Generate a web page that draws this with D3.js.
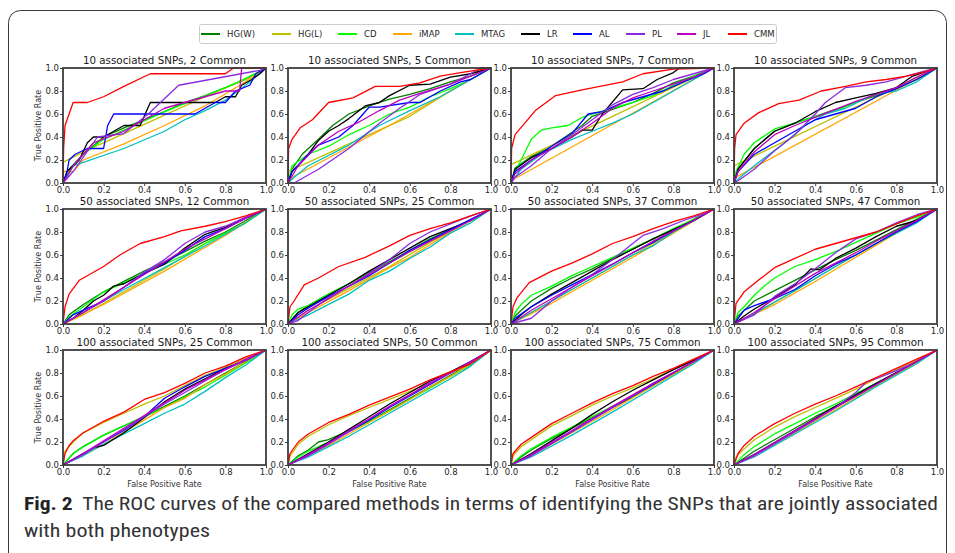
<!DOCTYPE html>
<html><head><meta charset="utf-8">
<script src="https://cdn.jsdelivr.net/npm/d3@7"></script>
<style>body{margin:0;background:#fff}svg{display:block}</style>
</head><body>
<svg id="chart" width="955" height="553"></svg>
<script>
const methods = ["HG(W)","HG(L)","CD","iMAP","MTAG","LR","AL","PL","JL","CMM"];
const colors = ["#008000","#bfbf00","#00ff00","#ffa500","#00bfbf","#000000","#0000ff","#8a2be2","#bf00bf","#ff0000"];
const panelTitles = [
 "10 associated SNPs, 2 Common","10 associated SNPs, 5 Common","10 associated SNPs, 7 Common","10 associated SNPs, 9 Common",
 "50 associated SNPs, 12 Common","50 associated SNPs, 25 Common","50 associated SNPs, 37 Common","50 associated SNPs, 47 Common",
 "100 associated SNPs, 25 Common","100 associated SNPs, 50 Common","100 associated SNPs, 75 Common","100 associated SNPs, 95 Common"];
const tickValues = [0,0.2,0.4,0.6,0.8,1.0];
const xLabel = "False Positive Rate", yLabel = "True Positive Rate";

// ROC curves: [FPR, TPR] points, series in the order of `methods`
const roc_10_2 = [
 [[0,0],[0.03,0.12],[0.1,0.25],[0.2,0.4],[0.3,0.48],[0.4,0.55],[0.5,0.62],[0.6,0.7],[0.7,0.76],[0.8,0.83],[0.9,0.9],[1,1]],
 [[0,0],[0,0.18],[0.1,0.27],[0.3,0.43],[0.5,0.59],[0.7,0.75],[0.9,0.9],[1,1]],
 [[0,0],[0.03,0.1],[0.1,0.25],[0.2,0.38],[0.3,0.46],[0.4,0.54],[0.5,0.62],[0.6,0.69],[0.7,0.76],[0.8,0.83],[0.9,0.91],[1,1]],
 [[0,0],[0,0.1],[0.05,0.1],[0.1,0.2],[0.3,0.34],[0.5,0.5],[0.7,0.67],[0.9,0.88],[1,1]],
 [[0,0],[0.02,0.05],[0.05,0.15],[0.1,0.18],[0.3,0.3],[0.5,0.45],[0.6,0.55],[0.7,0.63],[0.8,0.72],[0.9,0.85],[1,1]],
 [[0,0],[0.02,0.1],[0.05,0.15],[0.08,0.2],[0.12,0.35],[0.15,0.4],[0.2,0.4],[0.25,0.45],[0.3,0.5],[0.38,0.5],[0.43,0.7],[0.75,0.7],[0.8,0.75],[0.85,0.75],[0.88,0.85],[0.93,0.9],[0.97,0.95],[1,1]],
 [[0,0],[0.02,0.1],[0.03,0.2],[0.06,0.25],[0.12,0.3],[0.2,0.3],[0.22,0.5],[0.25,0.6],[0.65,0.6],[0.75,0.7],[0.8,0.7],[0.85,0.8],[0.92,0.85],[0.95,0.95],[1,1]],
 [[0,0],[0.05,0.1],[0.17,0.4],[0.3,0.43],[0.42,0.6],[0.57,0.85],[0.97,0.98],[1,1]],
 [[0,0],[0.05,0.15],[0.15,0.35],[0.3,0.45],[0.5,0.65],[0.7,0.75],[0.8,0.8],[0.87,0.8],[0.88,1],[1,1]],
 [[0,0],[0.003,0.3],[0.01,0.5],[0.05,0.7],[0.12,0.7],[0.2,0.75],[0.3,0.84],[0.43,0.95],[0.8,0.95],[0.84,1],[1,1]]
];
const roc_10_5 = [
 [[0,0],[0.02,0.12],[0.07,0.25],[0.15,0.38],[0.22,0.5],[0.3,0.6],[0.4,0.67],[0.5,0.73],[0.6,0.77],[0.7,0.82],[0.8,0.88],[0.9,0.93],[1,1]],
 [[0,0],[0,0.1],[0.2,0.26],[0.4,0.42],[0.6,0.58],[0.8,0.8],[1,1]],
 [[0,0],[0.02,0.15],[0.1,0.25],[0.2,0.32],[0.3,0.42],[0.4,0.5],[0.5,0.6],[0.6,0.66],[0.7,0.75],[0.8,0.82],[0.9,0.9],[1,1]],
 [[0,0],[0,0.03],[0.5,0.5],[1,1]],
 [[0,0],[0.03,0.05],[0.1,0.15],[0.3,0.33],[0.45,0.5],[0.6,0.63],[0.75,0.75],[0.9,0.9],[1,1]],
 [[0,0],[0.02,0.1],[0.05,0.15],[0.1,0.25],[0.15,0.37],[0.2,0.45],[0.25,0.5],[0.3,0.56],[0.38,0.67],[0.45,0.7],[0.5,0.76],[0.6,0.85],[0.7,0.86],[0.8,0.92],[0.9,0.95],[1,1]],
 [[0,0],[0.02,0.1],[0.1,0.25],[0.15,0.33],[0.25,0.4],[0.32,0.5],[0.37,0.6],[0.4,0.66],[0.45,0.66],[0.6,0.7],[0.65,0.7],[0.75,0.8],[0.85,0.88],[0.9,0.9],[1,1]],
 [[0,0],[0.03,0],[0.15,0.12],[0.3,0.3],[0.45,0.52],[0.55,0.65],[0.65,0.77],[0.8,0.86],[0.9,0.95],[0.95,1],[1,1]],
 [[0,0],[0.05,0.15],[0.15,0.33],[0.25,0.45],[0.35,0.53],[0.45,0.63],[0.55,0.72],[0.65,0.78],[0.8,0.86],[0.9,0.93],[1,1]],
 [[0,0],[0.003,0.3],[0.02,0.38],[0.06,0.48],[0.12,0.55],[0.2,0.7],[0.32,0.74],[0.43,0.84],[0.55,0.84],[0.65,0.87],[0.75,0.93],[0.85,0.96],[1,1]]
];
const roc_10_7 = [
 [[0,0],[0.02,0.13],[0.1,0.23],[0.18,0.3],[0.25,0.38],[0.35,0.5],[0.4,0.58],[0.5,0.64],[0.6,0.7],[0.7,0.78],[0.8,0.87],[0.9,0.93],[1,1]],
 [[0,0],[0,0.16],[0.5,0.58],[1,1]],
 [[0,0],[0.02,0.1],[0.05,0.2],[0.1,0.38],[0.15,0.46],[0.2,0.48],[0.28,0.5],[0.35,0.57],[0.4,0.6],[0.5,0.65],[0.6,0.7],[0.7,0.76],[0.8,0.85],[0.9,0.93],[1,1]],
 [[0,0],[0,0.02],[1,1]],
 [[0,0],[0.05,0.12],[0.15,0.25],[0.3,0.38],[0.4,0.45],[0.5,0.52],[0.6,0.6],[0.7,0.7],[0.8,0.8],[0.9,0.9],[1,1]],
 [[0,0],[0.02,0.12],[0.1,0.22],[0.2,0.3],[0.3,0.4],[0.35,0.46],[0.4,0.46],[0.45,0.6],[0.55,0.81],[0.65,0.82],[0.72,0.9],[0.8,0.96],[0.83,1],[1,1]],
 [[0,0],[0.02,0.1],[0.1,0.2],[0.2,0.32],[0.3,0.43],[0.38,0.6],[0.45,0.62],[0.55,0.7],[0.65,0.75],[0.75,0.8],[0.85,0.88],[0.95,0.95],[1,1]],
 [[0,0],[0.02,0.05],[0.1,0.15],[0.2,0.3],[0.3,0.42],[0.4,0.55],[0.5,0.68],[0.6,0.77],[0.7,0.83],[0.8,0.9],[0.9,0.95],[1,1]],
 [[0,0],[0.02,0.08],[0.1,0.2],[0.2,0.3],[0.3,0.4],[0.4,0.52],[0.5,0.65],[0.6,0.74],[0.7,0.8],[0.8,0.86],[0.9,0.92],[1,1]],
 [[0,0],[0.003,0.3],[0.02,0.42],[0.12,0.63],[0.22,0.76],[0.35,0.81],[0.55,0.88],[0.65,0.95],[0.8,0.99],[1,1]]
];
const roc_10_9 = [
 [[0,0],[0.02,0.12],[0.1,0.3],[0.2,0.45],[0.3,0.52],[0.4,0.58],[0.5,0.64],[0.6,0.7],[0.7,0.76],[0.8,0.82],[0.9,0.9],[1,1]],
 [[0,0],[0,0.15],[1,1]],
 [[0,0],[0.01,0.1],[0.05,0.25],[0.1,0.35],[0.2,0.47],[0.3,0.52],[0.4,0.58],[0.5,0.63],[0.6,0.7],[0.7,0.77],[0.8,0.82],[0.9,0.9],[1,1]],
 [[0,0],[0,0.04],[1,1]],
 [[0,0],[0.03,0.05],[0.1,0.15],[0.25,0.35],[0.35,0.5],[0.45,0.6],[0.55,0.65],[0.7,0.78],[0.8,0.8],[0.9,0.88],[1,1]],
 [[0,0],[0.02,0.12],[0.1,0.3],[0.2,0.45],[0.3,0.52],[0.4,0.62],[0.5,0.7],[0.6,0.74],[0.7,0.78],[0.8,0.83],[0.88,0.93],[1,1]],
 [[0,0],[0.02,0.1],[0.1,0.25],[0.2,0.35],[0.3,0.45],[0.4,0.55],[0.5,0.6],[0.6,0.65],[0.7,0.75],[0.8,0.82],[0.9,0.9],[0.95,0.95],[1,1]],
 [[0,0],[0.02,0.02],[0.1,0.12],[0.2,0.28],[0.3,0.42],[0.4,0.6],[0.45,0.7],[0.55,0.83],[0.65,0.85],[0.75,0.88],[0.85,0.93],[0.95,0.98],[1,1]],
 [[0,0],[0.02,0.1],[0.1,0.27],[0.2,0.42],[0.3,0.5],[0.4,0.57],[0.5,0.64],[0.6,0.71],[0.7,0.77],[0.8,0.83],[0.9,0.92],[1,1]],
 [[0,0],[0.003,0.3],[0.01,0.42],[0.05,0.52],[0.12,0.61],[0.22,0.69],[0.32,0.72],[0.43,0.8],[0.55,0.84],[0.65,0.88],[0.75,0.9],[0.85,0.93],[0.95,0.97],[1,1]]
];
const roc_50_12 = [
 [[0,0],[0.03,0.08],[0.1,0.17],[0.2,0.28],[0.3,0.37],[0.4,0.46],[0.5,0.54],[0.6,0.63],[0.7,0.72],[0.8,0.8],[0.9,0.9],[1,1]],
 [[0,0],[0.1,0.08],[0.3,0.28],[0.5,0.48],[0.7,0.7],[0.9,0.88],[1,1]],
 [[0,0],[0.03,0.06],[0.1,0.15],[0.2,0.28],[0.3,0.36],[0.4,0.44],[0.5,0.52],[0.6,0.6],[0.7,0.7],[0.8,0.79],[0.9,0.88],[1,1]],
 [[0,0],[0.2,0.17],[0.5,0.46],[0.8,0.77],[1,1]],
 [[0,0],[0.1,0.1],[0.3,0.3],[0.5,0.49],[0.7,0.68],[0.9,0.88],[1,1]],
 [[0,0],[0.05,0.05],[0.1,0.12],[0.15,0.2],[0.2,0.25],[0.25,0.33],[0.3,0.35],[0.4,0.44],[0.5,0.52],[0.6,0.66],[0.7,0.78],[0.8,0.84],[0.9,0.92],[1,1]],
 [[0,0],[0.05,0.08],[0.1,0.12],[0.2,0.2],[0.3,0.32],[0.4,0.44],[0.5,0.53],[0.6,0.64],[0.7,0.76],[0.8,0.83],[0.9,0.92],[1,1]],
 [[0,0],[0.1,0.1],[0.2,0.2],[0.3,0.32],[0.4,0.45],[0.5,0.56],[0.6,0.7],[0.7,0.8],[0.8,0.85],[0.9,0.93],[1,1]],
 [[0,0],[0.1,0.1],[0.2,0.21],[0.3,0.32],[0.4,0.43],[0.5,0.54],[0.6,0.65],[0.7,0.74],[0.8,0.83],[0.9,0.92],[1,1]],
 [[0,0],[0.01,0.15],[0.03,0.26],[0.08,0.38],[0.15,0.45],[0.2,0.5],[0.28,0.6],[0.38,0.7],[0.5,0.76],[0.58,0.81],[0.7,0.85],[0.8,0.89],[0.9,0.94],[1,1]]
];
const roc_50_25 = [
 [[0,0],[0.05,0.1],[0.1,0.16],[0.2,0.26],[0.3,0.35],[0.4,0.45],[0.5,0.54],[0.6,0.64],[0.7,0.74],[0.8,0.82],[0.9,0.9],[1,1]],
 [[0,0],[0.1,0.12],[0.3,0.31],[0.5,0.5],[0.7,0.71],[0.9,0.9],[1,1]],
 [[0,0],[0.02,0.08],[0.05,0.13],[0.1,0.16],[0.2,0.26],[0.3,0.35],[0.4,0.44],[0.5,0.53],[0.6,0.63],[0.7,0.73],[0.8,0.82],[0.9,0.9],[1,1]],
 [[0,0],[0.1,0.1],[0.3,0.29],[0.5,0.49],[0.6,0.58],[0.8,0.8],[1,1]],
 [[0,0],[0.1,0.08],[0.2,0.17],[0.3,0.26],[0.4,0.38],[0.5,0.46],[0.6,0.57],[0.7,0.67],[0.8,0.79],[0.9,0.88],[1,1]],
 [[0,0],[0.05,0.1],[0.1,0.15],[0.2,0.25],[0.3,0.35],[0.4,0.46],[0.5,0.56],[0.6,0.66],[0.7,0.76],[0.8,0.83],[0.9,0.9],[1,1]],
 [[0,0],[0.05,0.08],[0.1,0.14],[0.2,0.24],[0.3,0.33],[0.4,0.42],[0.5,0.53],[0.6,0.64],[0.7,0.73],[0.8,0.82],[0.9,0.91],[1,1]],
 [[0,0],[0.05,0.03],[0.1,0.1],[0.2,0.23],[0.3,0.33],[0.4,0.44],[0.5,0.56],[0.6,0.7],[0.7,0.8],[0.8,0.87],[0.9,0.94],[1,1]],
 [[0,0],[0.1,0.12],[0.2,0.22],[0.3,0.33],[0.4,0.43],[0.5,0.53],[0.6,0.63],[0.7,0.72],[0.8,0.81],[0.9,0.9],[1,1]],
 [[0,0],[0.01,0.15],[0.03,0.2],[0.08,0.34],[0.15,0.4],[0.25,0.5],[0.38,0.58],[0.5,0.68],[0.6,0.77],[0.7,0.83],[0.8,0.88],[0.9,0.94],[1,1]]
];
const roc_50_37 = [
 [[0,0],[0.02,0.07],[0.1,0.2],[0.2,0.31],[0.3,0.4],[0.4,0.48],[0.5,0.57],[0.6,0.65],[0.7,0.74],[0.8,0.82],[0.9,0.91],[1,1]],
 [[0,0],[0.1,0.1],[0.3,0.3],[0.5,0.5],[0.7,0.7],[0.9,0.9],[1,1]],
 [[0,0],[0.02,0.1],[0.05,0.17],[0.1,0.25],[0.2,0.33],[0.3,0.42],[0.4,0.5],[0.5,0.58],[0.6,0.66],[0.7,0.74],[0.8,0.83],[0.9,0.91],[1,1]],
 [[0,0],[0.2,0.18],[0.4,0.38],[0.6,0.58],[0.8,0.79],[1,1]],
 [[0,0],[0.1,0.1],[0.2,0.2],[0.4,0.4],[0.6,0.6],[0.7,0.68],[0.8,0.8],[0.9,0.9],[1,1]],
 [[0,0],[0.05,0.08],[0.1,0.15],[0.2,0.26],[0.3,0.36],[0.4,0.46],[0.5,0.56],[0.6,0.65],[0.7,0.74],[0.8,0.82],[0.9,0.9],[1,1]],
 [[0,0],[0.02,0.05],[0.1,0.15],[0.2,0.25],[0.3,0.34],[0.4,0.43],[0.5,0.52],[0.6,0.62],[0.7,0.71],[0.8,0.81],[0.9,0.9],[1,1]],
 [[0,0],[0.1,0.05],[0.2,0.2],[0.3,0.32],[0.4,0.43],[0.5,0.56],[0.6,0.7],[0.65,0.77],[0.75,0.83],[0.85,0.9],[0.95,0.96],[1,1]],
 [[0,0],[0.1,0.12],[0.2,0.22],[0.3,0.32],[0.4,0.42],[0.5,0.52],[0.6,0.62],[0.7,0.72],[0.8,0.81],[0.9,0.9],[1,1]],
 [[0,0],[0.01,0.15],[0.03,0.23],[0.09,0.36],[0.2,0.46],[0.3,0.53],[0.4,0.61],[0.5,0.7],[0.6,0.76],[0.7,0.83],[0.8,0.89],[0.9,0.94],[1,1]]
];
const roc_50_47 = [
 [[0,0],[0.02,0.07],[0.1,0.2],[0.2,0.29],[0.3,0.38],[0.4,0.47],[0.5,0.56],[0.6,0.64],[0.7,0.73],[0.8,0.82],[0.9,0.91],[1,1]],
 [[0,0],[0.1,0.09],[0.3,0.29],[0.5,0.5],[0.7,0.7],[0.9,0.9],[1,1]],
 [[0,0],[0.02,0.1],[0.05,0.15],[0.1,0.25],[0.15,0.33],[0.2,0.4],[0.3,0.5],[0.4,0.56],[0.5,0.63],[0.6,0.71],[0.7,0.79],[0.8,0.87],[0.9,0.93],[1,1]],
 [[0,0],[0.2,0.17],[0.4,0.37],[0.6,0.58],[0.8,0.79],[1,1]],
 [[0,0],[0.1,0.09],[0.3,0.29],[0.5,0.5],[0.7,0.7],[0.9,0.88],[1,1]],
 [[0,0],[0.05,0.07],[0.1,0.13],[0.2,0.23],[0.3,0.34],[0.38,0.48],[0.42,0.47],[0.5,0.57],[0.6,0.66],[0.7,0.76],[0.8,0.85],[0.9,0.9],[1,1]],
 [[0,0],[0.05,0.12],[0.1,0.16],[0.2,0.22],[0.3,0.3],[0.4,0.42],[0.5,0.52],[0.6,0.6],[0.7,0.7],[0.8,0.8],[0.9,0.89],[1,1]],
 [[0,0],[0.1,0.08],[0.2,0.24],[0.3,0.35],[0.4,0.48],[0.5,0.62],[0.6,0.74],[0.7,0.8],[0.8,0.88],[0.9,0.95],[1,1]],
 [[0,0],[0.1,0.1],[0.2,0.22],[0.3,0.33],[0.4,0.44],[0.5,0.53],[0.6,0.62],[0.7,0.72],[0.8,0.81],[0.9,0.9],[1,1]],
 [[0,0],[0.01,0.18],[0.05,0.28],[0.12,0.38],[0.2,0.49],[0.3,0.57],[0.4,0.65],[0.5,0.7],[0.6,0.75],[0.7,0.8],[0.8,0.87],[0.9,0.94],[1,1]]
];
const roc_100_25 = [
 [[0,0],[0.05,0.1],[0.1,0.16],[0.2,0.26],[0.3,0.34],[0.4,0.42],[0.5,0.51],[0.6,0.6],[0.7,0.7],[0.8,0.8],[0.9,0.9],[1,1]],
 [[0,0],[0.01,0.12],[0.05,0.2],[0.1,0.28],[0.2,0.37],[0.3,0.45],[0.4,0.53],[0.5,0.6],[0.6,0.69],[0.7,0.78],[0.8,0.85],[0.9,0.93],[1,1]],
 [[0,0],[0.05,0.1],[0.1,0.16],[0.2,0.26],[0.3,0.34],[0.4,0.42],[0.5,0.5],[0.6,0.59],[0.7,0.68],[0.8,0.78],[0.9,0.89],[1,1]],
 [[0,0],[0.2,0.18],[0.4,0.39],[0.5,0.5],[0.6,0.58],[0.7,0.7],[0.8,0.79],[0.9,0.9],[1,1]],
 [[0,0],[0.1,0.08],[0.2,0.18],[0.3,0.27],[0.4,0.36],[0.5,0.45],[0.6,0.53],[0.7,0.64],[0.8,0.76],[0.9,0.87],[1,1]],
 [[0,0],[0.1,0.1],[0.15,0.15],[0.2,0.17],[0.3,0.28],[0.4,0.41],[0.5,0.55],[0.6,0.66],[0.7,0.75],[0.8,0.84],[0.9,0.91],[1,1]],
 [[0,0],[0.1,0.1],[0.2,0.2],[0.3,0.3],[0.4,0.42],[0.5,0.58],[0.6,0.68],[0.7,0.77],[0.8,0.84],[0.9,0.91],[1,1]],
 [[0,0],[0.1,0.09],[0.2,0.2],[0.3,0.31],[0.4,0.42],[0.5,0.53],[0.6,0.63],[0.7,0.73],[0.8,0.83],[0.9,0.91],[1,1]],
 [[0,0],[0.1,0.1],[0.2,0.21],[0.3,0.32],[0.4,0.43],[0.5,0.54],[0.6,0.65],[0.7,0.74],[0.8,0.83],[0.9,0.92],[1,1]],
 [[0,0],[0.01,0.1],[0.03,0.17],[0.05,0.21],[0.1,0.28],[0.2,0.38],[0.3,0.46],[0.4,0.57],[0.5,0.63],[0.6,0.71],[0.7,0.8],[0.8,0.86],[0.9,0.94],[1,1]]
];
const roc_100_50 = [
 [[0,0],[0.05,0.08],[0.1,0.13],[0.15,0.2],[0.2,0.22],[0.3,0.3],[0.4,0.38],[0.5,0.48],[0.6,0.58],[0.7,0.68],[0.8,0.78],[0.9,0.88],[1,1]],
 [[0,0],[0.01,0.08],[0.05,0.18],[0.1,0.25],[0.2,0.35],[0.3,0.43],[0.4,0.5],[0.5,0.57],[0.6,0.64],[0.7,0.72],[0.8,0.8],[0.9,0.88],[1,1]],
 [[0,0],[0.05,0.07],[0.1,0.12],[0.2,0.2],[0.3,0.29],[0.4,0.38],[0.5,0.47],[0.6,0.57],[0.7,0.67],[0.8,0.77],[0.9,0.87],[1,1]],
 [[0,0],[0.1,0.08],[0.2,0.17],[0.3,0.27],[0.4,0.37],[0.5,0.47],[0.6,0.57],[0.7,0.68],[0.8,0.77],[0.9,0.88],[1,1]],
 [[0,0],[0.1,0.07],[0.2,0.16],[0.3,0.25],[0.4,0.35],[0.5,0.45],[0.6,0.55],[0.7,0.65],[0.8,0.75],[0.9,0.86],[1,1]],
 [[0,0],[0.1,0.1],[0.2,0.2],[0.3,0.31],[0.4,0.42],[0.5,0.53],[0.6,0.63],[0.7,0.73],[0.8,0.81],[0.9,0.9],[1,1]],
 [[0,0],[0.1,0.09],[0.2,0.19],[0.3,0.29],[0.4,0.39],[0.5,0.5],[0.6,0.6],[0.7,0.7],[0.8,0.8],[0.9,0.9],[1,1]],
 [[0,0],[0.1,0.08],[0.2,0.18],[0.3,0.29],[0.4,0.4],[0.5,0.51],[0.6,0.61],[0.7,0.72],[0.8,0.8],[0.9,0.89],[1,1]],
 [[0,0],[0.1,0.09],[0.2,0.19],[0.3,0.3],[0.4,0.4],[0.5,0.51],[0.6,0.61],[0.7,0.71],[0.8,0.8],[0.9,0.9],[1,1]],
 [[0,0],[0.01,0.1],[0.05,0.2],[0.1,0.27],[0.2,0.37],[0.3,0.44],[0.4,0.52],[0.5,0.59],[0.6,0.66],[0.7,0.74],[0.8,0.81],[0.9,0.88],[1,1]]
];
const roc_100_75 = [
 [[0,0],[0.05,0.07],[0.1,0.13],[0.2,0.23],[0.3,0.32],[0.4,0.41],[0.5,0.5],[0.6,0.59],[0.7,0.69],[0.8,0.79],[0.9,0.89],[1,1]],
 [[0,0],[0.01,0.08],[0.05,0.16],[0.1,0.22],[0.2,0.34],[0.3,0.43],[0.4,0.52],[0.5,0.6],[0.6,0.67],[0.7,0.75],[0.8,0.83],[0.9,0.91],[1,1]],
 [[0,0],[0.05,0.08],[0.1,0.14],[0.2,0.24],[0.3,0.33],[0.4,0.42],[0.5,0.51],[0.6,0.6],[0.7,0.7],[0.8,0.79],[0.9,0.89],[1,1]],
 [[0,0],[0.1,0.08],[0.3,0.28],[0.5,0.48],[0.7,0.69],[0.9,0.89],[1,1]],
 [[0,0],[0.1,0.07],[0.3,0.26],[0.5,0.46],[0.7,0.67],[0.9,0.88],[1,1]],
 [[0,0],[0.1,0.1],[0.2,0.21],[0.3,0.32],[0.4,0.44],[0.5,0.55],[0.6,0.65],[0.7,0.74],[0.8,0.83],[0.9,0.91],[1,1]],
 [[0,0],[0.1,0.09],[0.3,0.29],[0.5,0.5],[0.7,0.7],[0.9,0.9],[1,1]],
 [[0,0],[0.1,0.08],[0.3,0.29],[0.5,0.5],[0.7,0.71],[0.9,0.9],[1,1]],
 [[0,0],[0.1,0.09],[0.3,0.3],[0.5,0.51],[0.7,0.71],[0.9,0.9],[1,1]],
 [[0,0],[0.01,0.1],[0.05,0.18],[0.1,0.24],[0.2,0.36],[0.3,0.45],[0.4,0.54],[0.5,0.62],[0.6,0.69],[0.7,0.77],[0.8,0.84],[0.9,0.92],[1,1]]
];
const roc_100_95 = [
 [[0,0],[0.1,0.12],[0.2,0.22],[0.3,0.32],[0.4,0.42],[0.5,0.51],[0.6,0.6],[0.7,0.7],[0.8,0.8],[0.9,0.9],[1,1]],
 [[0,0],[0.01,0.07],[0.05,0.14],[0.1,0.22],[0.2,0.33],[0.3,0.42],[0.4,0.5],[0.5,0.58],[0.6,0.66],[0.7,0.75],[0.8,0.83],[0.9,0.91],[1,1]],
 [[0,0],[0.05,0.09],[0.1,0.16],[0.2,0.27],[0.3,0.36],[0.4,0.45],[0.5,0.53],[0.6,0.62],[0.7,0.71],[0.8,0.8],[0.9,0.9],[1,1]],
 [[0,0],[0.1,0.08],[0.3,0.28],[0.5,0.48],[0.7,0.69],[0.9,0.89],[1,1]],
 [[0,0],[0.1,0.07],[0.3,0.27],[0.5,0.47],[0.7,0.68],[0.9,0.88],[1,1]],
 [[0,0],[0.1,0.09],[0.3,0.3],[0.5,0.51],[0.7,0.71],[0.9,0.9],[1,1]],
 [[0,0],[0.1,0.09],[0.3,0.29],[0.5,0.5],[0.7,0.7],[0.9,0.9],[1,1]],
 [[0,0],[0.1,0.08],[0.3,0.29],[0.5,0.5],[0.6,0.63],[0.65,0.72],[0.7,0.75],[0.8,0.82],[0.9,0.9],[1,1]],
 [[0,0],[0.1,0.09],[0.3,0.3],[0.5,0.5],[0.7,0.7],[0.9,0.9],[1,1]],
 [[0,0],[0.02,0.1],[0.05,0.17],[0.1,0.25],[0.2,0.36],[0.3,0.45],[0.4,0.53],[0.5,0.6],[0.6,0.68],[0.7,0.76],[0.8,0.84],[0.9,0.92],[1,1]]
];
const panels = [roc_10_2, roc_10_5, roc_10_7, roc_10_9, roc_50_12, roc_50_25, roc_50_37, roc_50_47, roc_100_25, roc_100_50, roc_100_75, roc_100_95];
const captionBold = "Fig. 2";
const captionLine1 = "The ROC curves of the compared methods in terms of identifying the SNPs that are jointly associated";
const captionLine2 = "with both phenotypes";

// ---------------- drawing ----------------
const svg = d3.select("#chart");
const colX = [63, 288, 511, 734], rowY = [68, 209, 350];
const pw = 203, ph = 115;
const font = "'DejaVu Sans', sans-serif";
const capFont = "'Liberation Sans Narrow', 'Roboto Condensed', 'Open Sans', sans-serif";

svg.append("rect").attr("x", 8.5).attr("y", 10.5).attr("width", 938).attr("height", 580)
  .attr("rx", 12).attr("fill", "none").attr("stroke", "#3a3a3a").attr("stroke-width", 1);

panels.forEach((series, i) => {
  const r = Math.floor(i / 4), c = i % 4;
  const g = svg.append("g").attr("transform", `translate(${colX[c]},${rowY[r]})`);
  const x = d3.scaleLinear().domain([0, 1]).range([0, pw]);
  const y = d3.scaleLinear().domain([0, 1]).range([ph, 0]);
  const line = d3.line().x(d => x(d[0])).y(d => y(d[1]));
  series.forEach((pts, k) => {
    g.append("path").attr("d", line(pts)).attr("fill", "none")
      .attr("stroke", colors[k]).attr("stroke-width", 1.3).attr("stroke-linejoin", "round");
  });
  g.append("rect").attr("width", pw).attr("height", ph).attr("fill", "none")
    .attr("stroke", "#3d3d3d").attr("stroke-width", 1.8);
  const fmt = d3.format(".1f");
  const ax = g.append("g").attr("transform", `translate(0,${ph})`)
    .call(d3.axisBottom(x).tickValues(tickValues).tickFormat(fmt).tickSize(3).tickPadding(1));
  const ay = g.append("g")
    .call(d3.axisLeft(y).tickValues(tickValues).tickFormat(fmt).tickSize(3).tickPadding(1));
  [ax, ay].forEach(a => {
    a.select(".domain").remove();
    a.selectAll("line").attr("stroke", "#3d3d3d");
    a.selectAll("text").attr("font-family", font).attr("font-size", 8.5).attr("fill", "#262626");
  });
  g.append("text").attr("x", pw / 2).attr("y", -4).attr("text-anchor", "middle")
    .attr("font-family", font).attr("font-size", 10.3).attr("fill", "#1a1a1a").text(panelTitles[i]);
  if (c === 0) {
    g.append("text").attr("transform", `translate(-22,${ph / 2}) rotate(-90)`)
      .attr("text-anchor", "middle").attr("font-family", font).attr("font-size", 8)
      .attr("fill", "#333").text(yLabel);
  }
  if (r === 2) {
    g.append("text").attr("x", pw / 2).attr("y", ph + 22).attr("text-anchor", "middle")
      .attr("font-family", font).attr("font-size", 8).attr("fill", "#333").text(xLabel);
  }
});

// legend
const lg = svg.append("g");
lg.append("rect").attr("x", 199.5).attr("y", 24.5).attr("width", 577).attr("height", 19)
  .attr("rx", 2).attr("fill", "#fff").attr("stroke", "#cccccc");
const legX = [201, 272, 338, 393, 455, 521, 573, 626, 677, 728];
methods.forEach((m, k) => {
  lg.append("line").attr("x1", legX[k]).attr("x2", legX[k] + 19).attr("y1", 34).attr("y2", 34)
    .attr("stroke", colors[k]).attr("stroke-width", 2);
  lg.append("text").attr("x", legX[k] + 26).attr("y", 37).attr("font-family", font)
    .attr("font-size", 8.5).attr("fill", "#262626").text(m);
});

// caption
const cap = svg.append("text").attr("x", 24).attr("y", 510)
  .attr("font-family", capFont).attr("font-size", 19).attr("fill", "#333")
  .attr("textLength", 914).attr("lengthAdjust", "spacingAndGlyphs");
cap.append("tspan").attr("font-weight", "bold").attr("fill", "#222").text(captionBold);
cap.append("tspan").text("\u2002" + captionLine1);
svg.append("text").attr("x", 24).attr("y", 537)
  .attr("font-family", capFont).attr("font-size", 19).attr("fill", "#333")
  .attr("textLength", 186).attr("lengthAdjust", "spacingAndGlyphs").text(captionLine2);
</script>
</body></html>
